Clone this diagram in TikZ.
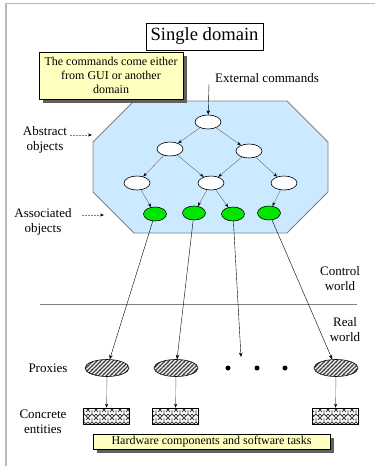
\documentclass[tikz,border=0pt]{standalone}
\usepackage{fontspec}
\setmainfont{Liberation Serif}
\usetikzlibrary{shapes.geometric,arrows.meta,patterns.meta}
\tikzdeclarepattern{
  name=hatchthick, type=uncolored,
  bounding box={(-0.5pt,-0.5pt) and (4.5pt,4.5pt)},
  tile size={(4pt,4pt)},
  code={\draw[line width=1.3pt] (-1pt,-1pt) -- (5pt,5pt);}
}
\tikzdeclarepattern{
  name=weave, type=uncolored,
  bounding box={(-0.5pt,-0.5pt) and (8.5pt,8.5pt)},
  tile size={(8pt,8pt)},
  code={\draw[line width=0.9pt] (0pt,0pt) -- (4pt,4pt) -- (8pt,0pt) (0pt,8pt) -- (2pt,6pt) (6pt,6pt) -- (8pt,8pt) (2pt,2pt) -- (0pt,4pt) (6pt,2pt) -- (8pt,4pt) (4pt,4pt) -- (4pt,8pt);}
}
\definecolor{octblue}{RGB}{204,234,255}
\definecolor{noteyellow}{RGB}{255,255,192}
\definecolor{objgreen}{RGB}{0,230,0}
\tikzset{
  lbl/.style={font=\fontsize{13}{15}\selectfont, align=center, inner sep=0pt},
  note/.style={draw=black, fill=noteyellow, font=\fontsize{12}{14}\selectfont, align=center, inner sep=1pt},
  shadowbox/.style={fill=gray!75!black, draw=none},
  absobj/.style={ellipse, draw=black, fill=white, minimum width=26pt, minimum height=14pt, inner sep=0pt, line width=0.6pt},
  assobj/.style={ellipse, draw=black, fill=objgreen, minimum width=23pt, minimum height=14pt, inner sep=0pt, line width=0.6pt},
  proxy/.style={ellipse, draw=black, pattern={hatchthick}, pattern color=black!75, minimum width=44pt, minimum height=17pt, inner sep=0pt, line width=0.6pt},
  entity/.style={rectangle, draw=black, pattern={weave}, pattern color=black!75, minimum width=46pt, minimum height=16pt, inner sep=0pt, line width=0.6pt},
  dot/.style={circle, fill=black, minimum size=5pt, inner sep=0pt},
  treearrow/.style={draw=gray!80!black, line width=0.4pt, -{Stealth[length=4pt, width=3pt, black]}},
  longarrow/.style={draw=black, line width=0.4pt, -{Stealth[length=4.5pt, width=3.5pt]}},
  labarrow/.style={draw=gray, dashed, dash pattern=on 2pt off 1pt, line width=0.5pt, -{Stealth[length=4pt, width=3pt, black]}}
}
\begin{document}
\begin{tikzpicture}[x=1pt, y=-1pt]
\useasboundingbox (0,0) rectangle (375,466);
\fill[white] (0,0) rectangle (375,466);
% frame
\draw[gray!55, line width=1.3pt] (6,466) -- (6,3.5) -- (375,3.5);
% title
\node[draw=black, fill=white, minimum width=117pt, minimum height=27pt, inner sep=0pt, font=\fontsize{18.6}{20}\selectfont, line width=0.6pt] (title) at (204.5,36.5) {Single domain};
% octagon
\filldraw[fill=octblue, draw=gray, line width=0.8pt] (134,101) -- (287,101) -- (328,142) -- (328,192) -- (287,233) -- (134,233) -- (93,192) -- (93,142) -- cycle;
% note 1
\fill[shadowbox] (43,56) rectangle (187,103);
\node[note, minimum width=144pt, minimum height=47pt] (note1) at (111,75.5) {The commands come either\\from GUI or another\\domain};
% external commands
\node[lbl] (ext) at (267,78) {External commands};
\coordinate (extstart) at (209,84);
% abstract objects
\node[absobj] (e0) at (208,122) {};
\node[absobj] (e1) at (170,149) {};
\node[absobj] (e2) at (249,151) {};
\node[absobj] (e3) at (137,183) {};
\node[absobj] (e4) at (211,183) {};
\node[absobj] (e5) at (284,183) {};
% associated objects
\node[assobj] (g1) at (155,214) {};
\node[assobj] (g2) at (194,213) {};
\node[assobj] (g3) at (233,214) {};
\node[assobj] (g4) at (269,213) {};
% tree arrows
\draw[longarrow] (extstart) -- (e0);
\draw[treearrow] (e0) -- (e1);
\draw[treearrow] (e0) -- (e2);
\draw[treearrow] (e1) -- (e3);
\draw[treearrow] (e1) -- (e4);
\draw[treearrow] (e2) -- (e4);
\draw[treearrow] (e2) -- (e5);
\draw[treearrow] (e3) -- (g1);
\draw[treearrow] (e4) -- (g2);
\draw[treearrow] (e4) -- (g3);
\draw[treearrow] (e5) -- (g4);
% side labels
\node[lbl] (abs) at (45,140) {Abstract\\objects};
\coordinate (absA) at (70,135);
\coordinate (absB) at (92,135);
\draw[labarrow] (absA) -- (absB);
\node[lbl] (ass) at (43,222) {Associated\\objects};
\coordinate (assA) at (82,215);
\coordinate (assB) at (104,215);
\draw[labarrow] (assA) -- (assB);
% world separator
\coordinate (sepL) at (40,304);
\coordinate (sepR) at (357,304);
\draw[gray, line width=0.6pt] (sepL) -- (sepR);
\node[lbl] (ctrl) at (340,279) {Control\\world};
\node[lbl] (real) at (345,330) {Real\\world};
% proxies
\node[lbl] (proxlab) at (48,368) {Proxies};
\node[proxy] (p1) at (107,368) {};
\node[proxy] (p2) at (176,368) {};
\node[proxy] (p4) at (336,368) {};
\node[dot] (d1) at (228,368) {};
\node[dot] (d2) at (257,368) {};
\node[dot] (d3) at (285,368) {};
\coordinate (g3end) at (241,357);
\draw[longarrow] (g1) -- (p1);
\draw[longarrow] (g2) -- (p2);
\draw[longarrow] (g3) -- (g3end);
\draw[longarrow] (g4) -- (p4);
% concrete entities
\node[lbl] (conclab) at (43,422) {Concrete\\entities};
\node[entity] (r1) at (106.5,416) {};
\node[entity] (r2) at (175.5,416) {};
\node[entity] (r4) at (335.5,416) {};
\draw[treearrow] (p1) -- (r1);
\draw[treearrow] (p2) -- (r2);
\draw[treearrow] (p4) -- (r4);
% note 2
\fill[shadowbox] (97,438) rectangle (334,453);
\node[note, minimum width=237pt, minimum height=15.5pt, inner sep=0pt] (note2) at (211.5,441.5) {Hardware components and software tasks};
\end{tikzpicture}
\end{document}
